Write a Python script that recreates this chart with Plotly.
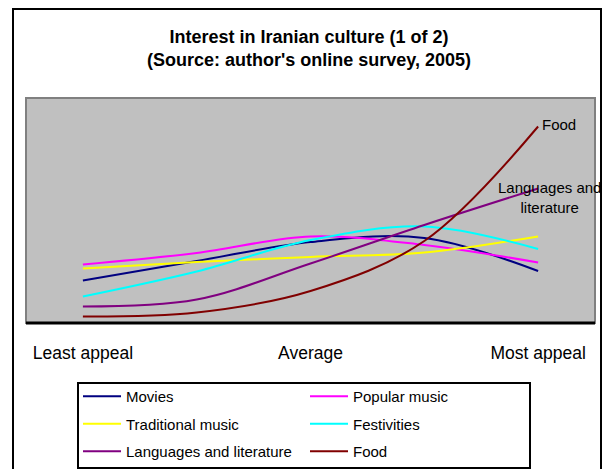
import plotly.graph_objects as go

# five appeal categories, only three of them labelled
categories = [0, 1, 2, 3, 4]
tick_vals = [0, 2, 4]
tick_text = ["Least appeal", "Average", "Most appeal"]

# share of respondents (arbitrary units)
movies = [8.5, 12.4, 16.2, 17.0, 10.4]
popular_music = [11.7, 14.0, 17.3, 15.6, 12.1]
traditional_music = [10.9, 12.2, 13.2, 14.1, 17.3]
festivities = [5.3, 10.3, 16.6, 19.3, 14.8]
languages = [3.3, 4.7, 11.9, 19.6, 26.9]
food = [1.3, 2.1, 6.4, 16.4, 39.3]

series = [
    ("Movies", movies, "#000080", "legend"),
    ("Popular music", popular_music, "#FF00FF", "legend2"),
    ("Traditional music", traditional_music, "#FFFF00", "legend"),
    ("Festivities", festivities, "#00FFFF", "legend2"),
    ("Languages and literature", languages, "#800080", "legend"),
    ("Food", food, "#800000", "legend2"),
]

FONT = "Liberation Sans, Arial, sans-serif"

# the page body has an 8px margin, so the figure is shrunk to fit the window
OFF = 8
W, H = 610 - OFF, 469 - OFF
L, R, T, B = 18, 15, 90, 146
PW, PH = W - L - R, H - T - B


def px(x):
    # screen x -> paper x
    return (x - OFF - L) / PW


def py(y):
    # screen y -> paper y
    return (H - B - (y - OFF)) / PH


fig = go.Figure()
for name, vals, color, leg in series:
    fig.add_trace(go.Scatter(
        x=categories, y=vals, name=name, mode="lines",
        line=dict(color=color, width=2, shape="spline", smoothing=1),
        legend=leg, legendgroup=name,
    ))

# data labels at the last point
fig.add_annotation(x=categories[-1], y=food[-1], text="Food", showarrow=False,
                   xanchor="left", yanchor="middle", xshift=2, yshift=2,
                   font=dict(family=FONT, size=15, color="black"))
fig.add_annotation(x=categories[-1], y=languages[-1], text="Languages and<br>literature",
                   showarrow=False, xanchor="center", yanchor="middle",
                   xshift=11, yshift=-9, align="center",
                   font=dict(family=FONT, size=15, color="black"))

# outer chart border, plot border, legend box
fig.add_shape(type="rect", xref="paper", yref="paper",
              x0=px(13), x1=px(601), y0=py(480), y1=py(9),
              line=dict(color="black", width=2))
fig.add_shape(type="rect", xref="paper", yref="paper",
              x0=0, x1=1, y0=0, y1=1, line=dict(color="#808080", width=2))
fig.add_shape(type="line", xref="paper", yref="paper",
              x0=0, x1=1, y0=0, y1=0, line=dict(color="black", width=3))
fig.add_shape(type="rect", xref="paper", yref="paper",
              x0=px(78), x1=px(530), y0=py(468), y1=py(383),
              line=dict(color="black", width=2))

leg_common = dict(
    orientation="v", yanchor="top", xanchor="left",
    bgcolor="rgba(0,0,0,0)", borderwidth=0, tracegroupgap=5,
    itemwidth=38, font=dict(family=FONT, size=15, color="black"),
)

fig.update_layout(
    width=W, height=H,
    margin=dict(l=L, r=R, t=T, b=B, autoexpand=False),
    paper_bgcolor="white", plot_bgcolor="#C0C0C0",
    title=dict(
        text="Interest in Iranian culture (1 of 2)<br>(Source: author's online survey, 2005)",
        x=0.5, xanchor="center", y=1 - (49 - OFF - 6) / H, yanchor="middle",
        font=dict(family=FONT, size=18, color="black", weight="bold"),
    ),
    xaxis=dict(
        range=[-0.5, 4.5], tickmode="array", tickvals=tick_vals, ticktext=tick_text,
        showgrid=False, zeroline=False, showline=False, ticks="",
        ticklabelstandoff=17, tickfont=dict(family=FONT, size=17.5, color="black"),
    ),
    yaxis=dict(range=[0, 45], visible=False, showgrid=False, zeroline=False),
    legend=dict(x=px(78), y=py(380), **leg_common),
    legend2=dict(x=px(305), y=py(380), **leg_common),
    showlegend=True,
)

fig.write_html("out.html")
